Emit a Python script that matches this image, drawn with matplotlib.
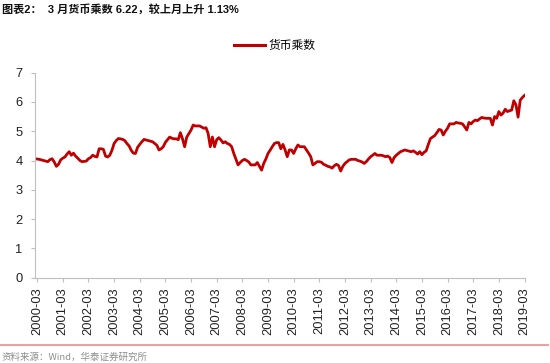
import numpy as np
import matplotlib
matplotlib.use("Agg")
import matplotlib.pyplot as plt
from matplotlib.lines import Line2D

# Monthly money multiplier, 2000-03 .. 2019-03
vals_2000 = [4.05, 4.04, 4.02, 4.00, 3.98, 3.96, 4.03, 4.06, 3.95, 3.80]
vals_2001 = [3.87, 4.02, 4.08, 4.12, 4.22, 4.30, 4.18, 4.25, 4.15, 4.08, 4.00, 3.96]
vals_2002 = [3.97, 3.98, 4.06, 4.10, 4.18, 4.14, 4.12, 4.40, 4.40, 4.38, 4.15, 4.12]
vals_2003 = [4.18, 4.35, 4.58, 4.68, 4.75, 4.74, 4.72, 4.68, 4.58, 4.50, 4.35, 4.25]
vals_2004 = [4.24, 4.45, 4.55, 4.64, 4.72, 4.70, 4.68, 4.66, 4.64, 4.58, 4.52, 4.36]
vals_2005 = [4.40, 4.47, 4.62, 4.71, 4.80, 4.76, 4.74, 4.74, 4.71, 4.95, 4.74, 4.47]
vals_2006 = [4.80, 4.92, 5.04, 5.21, 5.18, 5.18, 5.18, 5.14, 5.10, 5.12, 4.92, 4.47]
vals_2007 = [4.80, 4.47, 4.71, 4.78, 4.70, 4.60, 4.64, 4.58, 4.55, 4.47, 4.24, 4.05]
vals_2008 = [3.85, 3.93, 4.00, 4.04, 4.00, 3.95, 3.85, 3.85, 3.85, 3.93, 3.80, 3.67]
vals_2009 = [3.90, 4.05, 4.24, 4.35, 4.47, 4.58, 4.61, 4.61, 4.40, 4.55, 4.36, 4.13]
vals_2010 = [4.36, 4.36, 4.24, 4.40, 4.53, 4.47, 4.47, 4.47, 4.36, 4.25, 4.13, 3.85]
vals_2011 = [3.90, 3.96, 3.96, 3.94, 3.87, 3.84, 3.80, 3.78, 3.74, 3.82, 3.87, 3.83]
vals_2012 = [3.64, 3.80, 3.90, 3.96, 4.02, 4.04, 4.04, 4.04, 4.00, 3.98, 3.95, 3.90]
vals_2013 = [3.96, 4.05, 4.13, 4.18, 4.24, 4.18, 4.18, 4.18, 4.16, 4.13, 4.15, 4.10]
vals_2014 = [3.93, 4.10, 4.18, 4.24, 4.30, 4.33, 4.36, 4.34, 4.32, 4.30, 4.33, 4.28]
vals_2015 = [4.22, 4.30, 4.20, 4.28, 4.33, 4.55, 4.75, 4.80, 4.85, 4.95, 5.06, 5.04]
vals_2016 = [4.87, 5.00, 5.10, 5.25, 5.25, 5.25, 5.30, 5.28, 5.27, 5.25, 5.15, 5.04]
vals_2017 = [5.30, 5.25, 5.33, 5.38, 5.36, 5.42, 5.47, 5.45, 5.44, 5.44, 5.44, 5.21]
vals_2018 = [5.50, 5.44, 5.67, 5.55, 5.62, 5.75, 5.67, 5.70, 5.72, 6.04, 5.90, 5.48]
vals_2019 = [6.06, 6.15, 6.22]

years = list(range(2000, 2020))
tick_labels = [f"{y}-03" for y in years]

series = (vals_2000 + vals_2001 + vals_2002 + vals_2003 + vals_2004 + vals_2005
          + vals_2006 + vals_2007 + vals_2008 + vals_2009 + vals_2010 + vals_2011
          + vals_2012 + vals_2013 + vals_2014 + vals_2015 + vals_2016 + vals_2017
          + vals_2018 + vals_2019)

title = "图表2：  3 月货币乘数 6.22，较上月上升 1.13%"
legend_label = "货币乘数"
source = "资料来源：Wind，华泰证券研究所"

fonts = ['Liberation Sans', 'Noto Sans CJK SC', 'DejaVu Sans']
plt.rcParams['font.family'] = fonts

fig = plt.figure(figsize=[5.5, 3.63], dpi=100)
ax = fig.add_axes([35 / 550, 1 - 277.7 / 363, (524.5 - 35) / 550, (277.7 - 72.6) / 363])

x = np.arange(len(series))
ax.plot(x, series, color='#c00000', lw=2.0, solid_joinstyle='round')

ax.set_ylim(0, 7)
ax.set_xlim(-1, len(series) - 1)
ax.set_yticks(range(0, 8))
ax.set_xticks(np.arange(0, len(series), 12))
ax.set_xticklabels(tick_labels, rotation=90)

for s in ['top', 'right']:
    ax.spines[s].set_visible(False)
for s in ['left', 'bottom']:
    ax.spines[s].set_color('#bfbfbf')
    ax.spines[s].set_linewidth(0.8)
ax.tick_params(axis='both', colors='#bfbfbf', labelcolor='#222222', labelsize=9.3,
               length=3, width=0.8, direction='out')
ax.tick_params(axis='y', pad=6)
ax.tick_params(axis='x', pad=4)

# Legend
handle = Line2D([], [], color='#c00000', lw=2.2)
fig.legend([handle], [legend_label], loc='center left', bbox_to_anchor=(228 / 550, 1 - 45.5 / 363),
           frameon=False, handlelength=2.6, handletextpad=0.3, borderpad=0,
           prop={'family': ['Noto Sans CJK SC'], 'size': 8.5})

# Title and source
fig.text(2 / 550, 1 - 9 / 363, title, fontsize=8, fontweight='bold', va='center', ha='left',
         family=fonts, color='#111111')
fig.text(2 / 550, 1 - 357 / 363, source, fontsize=6.8, va='center', ha='left',
         family=['Noto Sans CJK SC', 'DejaVu Sans'], color='#8c8c8c')

# Bottom divider line
fig.add_artist(Line2D([0, 548 / 550], [1 - 345 / 363, 1 - 345 / 363],
                      transform=fig.transFigure, color='#e6a3a3', lw=1.5))

fig.savefig('out.png', dpi=100)
